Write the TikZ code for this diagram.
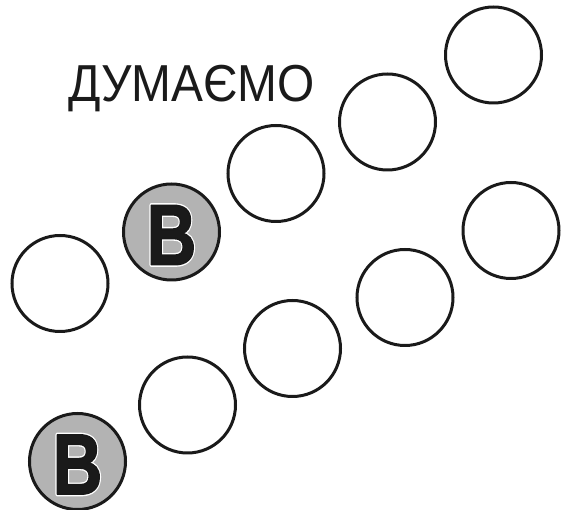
\documentclass[tikz,border=0pt]{standalone}
\usepackage{fontspec}
\setmainfont{Liberation Sans}
\definecolor{grayfill}{HTML}{B3B3B3}
\definecolor{inkblack}{HTML}{1A1A1A}
\newcommand{\Bglyph}{\scalebox{0.8}[1]{\fontsize{86}{86}\bfseries\selectfont B}}
% white halo underneath (stroke only)
\newcommand{\Bhalo}{\special{pdf:literal direct q 1 Tr 4.6 w 1 1 1 RG 1 j}\Bglyph\special{pdf:literal direct Q}}
% black body, slightly emboldened (fill + black stroke)
\newcommand{\Bbody}{\special{pdf:literal direct q 2 Tr 1.8 w 0.1 0.1 0.1 RG 1 j}\Bglyph\special{pdf:literal direct Q}}
\tikzset{
  ring/.style={circle, draw=inkblack, line width=3pt, minimum size=96pt, inner sep=0pt, fill=white},
  grayring/.style={ring, fill=grayfill},
  bin/.style={text=inkblack, inner sep=0pt},
  titletext/.style={anchor=base west, inner sep=0pt, text=inkblack, font=\fontsize{52}{52}\selectfont}
}
\begin{document}
\begin{tikzpicture}[x=1pt,y=-1pt]
\useasboundingbox (0,0) rectangle (566,510);
% top row
\node[ring] (t1) at (60,283.5) {};
\node[grayring] (t2) at (171.5,232) {};
\node[ring] (t3) at (276,173.5) {};
\node[ring] (t4) at (387.5,122) {};
\node[ring] (t5) at (493.5,55) {};
% bottom row
\node[grayring] (u1) at (77.5,461.5) {};
\node[ring] (u2) at (187.5,405) {};
\node[ring] (u3) at (292.5,348.5) {};
\node[ring] (u4) at (405,297.5) {};
\node[ring] (u5) at (511,230.5) {};
% B letters with white outline
\foreach \c in {t2,u1}{
  \node[bin] at ([yshift=-3]\c) {\Bhalo};
  \node[bin] (\c-B) at ([yshift=-3]\c) {\Bbody};
}
% title
\node[titletext] (title) at (68,102) {\scalebox{0.92}[1]{ДУМАЄМО}};
\end{tikzpicture}
\end{document}
